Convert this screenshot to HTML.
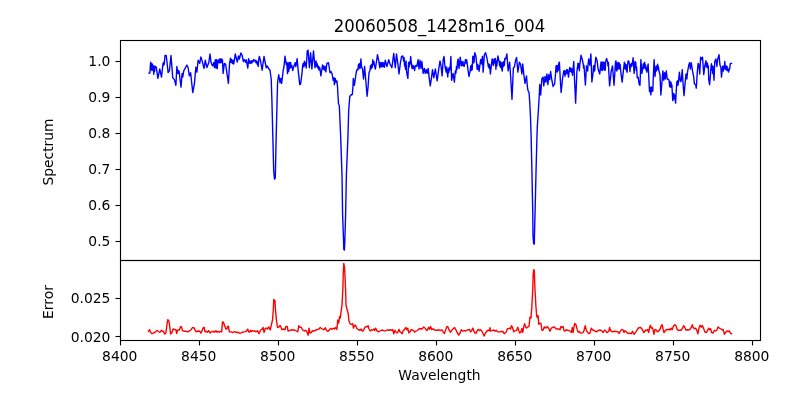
<!DOCTYPE html>
<html lang="en"><head><meta charset="utf-8"><title>20060508_1428m16_004</title>
<style>html,body{margin:0;padding:0;background:#fff}body{width:800px;height:400px;overflow:hidden}svg{display:block}text{font-family:'DejaVu Sans','Liberation Sans',sans-serif;fill:#000}</style></head><body>
<svg width="800" height="400" viewBox="0 0 800 400">
<rect width="800" height="400" fill="#fff"/>
<g fill="none" stroke-width="1.389" stroke-linejoin="round" stroke-linecap="square">
<polyline stroke="#0000ff" points="149,73.25 149.88,73 150.62,62.12 151,69 151.4,63.5 151.8,70.5 152.3,64 152.8,70 153.2,65.5 153.75,74.2 154.2,66.5 154.6,71.5 155,66 155.25,66.5 156.25,67.12 157.88,78.38 159.75,69 161.5,77.12 163,63.5 163.4,65.5 163.8,62.3 164.2,64.5 165,55.5 166.25,55.5 168.12,72.5 169.38,70.88 171,55.5 172.75,77.75 174.38,79.62 175.88,85.25 176.88,66.5 177.5,71 177.9,73.4 178.3,70.5 178.7,73.3 179.1,71.3 181,87.12 182.12,73.38 182.75,77.12 183.75,70.88 186.88,65 188.12,67.75 189.38,75.88 190.62,72.75 192.75,92.5 194.38,84 195.88,67.12 196.88,72.12 198.12,60.25 199.75,63.38 200.88,56.88 202.12,60.88 204,68.38 205.25,60.25 206.88,67.5 208.75,62.75 210,54 211,62.12 212.5,65.88 213.75,63.38 213.8,62.5 214.4,67.5 215.3,59.6 215.9,68 216.6,59.8 217.2,68.6 217.9,60.2 218.6,62.5 219.4,59 220,63 220.6,59 221.2,62.6 221.9,59 222.5,60.5 223.1,73.4 224.4,63.4 225.6,64 228.4,83.3 229.6,63 230.5,58.2 231.2,62.5 231.8,59.5 232.5,63.5 233.1,60.5 233.75,64 234.4,60 235.25,54 237.25,62.12 238.5,55.88 239.38,59 240.88,53 242.12,55.25 243.38,61.5 244.38,59.62 245.6,62.3 246.2,59.8 246.9,63.2 247.8,68 248.6,58.6 249.2,63 249.8,60.8 250.4,63.4 251,61 251.6,63 252.2,60.6 252.9,62 253.75,59.4 254.5,61 255.2,60.2 255.9,62.5 256.5,60.8 257.1,64 257.6,62 258.2,66.4 258.8,59 259.38,56.5 260.62,61.5 262.12,70.25 264,56.5 266.25,67.75 267.25,65.88 268.12,67.75 270,70.25 271.2,79 271.9,100 272.9,140 273.7,171 274.5,179.1 275.3,177.8 275.45,171 276.1,140 277.1,100 277.6,82 278.75,74.62 280,82.75 280.88,78.38 281.62,83.38 283.12,70.88 284,66.5 285,56.12 286.2,64.5 286.8,62.3 287.5,73.6 288.1,63 288.7,71.5 289.3,62.5 289.9,68.5 290.6,62.4 291.2,67 291.9,65.5 292.75,70.6 293.75,66.5 294.6,64.6 295.2,62.6 295.8,66.6 296.3,64 297.12,58.62 298.38,72.12 299.75,84.62 300.62,84 302.12,72.12 302.6,66 303.2,63.5 303.8,66.8 304.4,61.3 305,65.2 305.5,62.8 306.2,68 307.25,50.88 308.12,50.25 309.38,67.75 310.62,52.75 311.88,69 313.5,50.88 315,67.75 316,60.88 316.7,66.5 317.2,63.8 317.7,67.8 318.3,66 318.9,70 319.5,67.3 320.1,69.5 320.88,75.88 322.5,65 323.1,69 323.7,66 324.3,70 324.9,66.5 325.8,71.8 326.88,63.38 328.5,62.75 330,72.75 331,71.5 332.12,74 333.12,80.25 334,77.75 334.38,84.62 335.25,78.38 336,82.12 336.88,80.88 337.5,86.5 338,96 338.5,104 339.3,105.5 340.6,135 342,175 342.6,215 343.6,242 343.8,249.4 344.4,250 344.8,242 345.6,215 346.4,175 348,135 348.7,110 349.8,96.5 351,95 352.3,94.5 353,86 353.3,78.4 354.4,85.25 355.62,76.5 356.6,70.3 357.3,69.5 357.9,70 358.5,64.2 359.1,68.5 359.7,63.5 360.3,68 360.9,58.9 361.5,66.5 362.1,68 362.5,69 363.5,79 364.62,66.5 365.88,81.5 367.12,96.25 368,87.75 369,72.75 370,70.25 370.5,65.5 371.1,68.8 371.7,64.5 372.2,67.5 372.8,59.8 373.4,64.5 373.9,61.5 374.6,66 375.38,69 376.5,61.5 377.5,54.62 378.75,60.88 379.8,67.8 380.4,62.5 380.9,66.5 381.5,62.8 382.1,66.8 382.7,62.5 383.3,66.5 383.9,63 384.4,67.2 385.25,60.25 386.88,66.5 388.75,59.62 390,64 391.88,67.75 393.75,53.38 395.25,67.75 396.5,54 397.75,62.75 399,74 400.25,64 401.5,56.5 402.75,55.88 403.6,61 404.1,57.5 404.6,66 405.1,62.5 405.5,69.2 406,60.88 406.62,72.12 407.88,78.38 408.6,62.5 409.2,67 409.8,61.5 410.2,64 410.62,56.5 411.5,64 412,68.5 412.6,65.5 413.2,68.2 413.8,65.8 414.6,70.5 415.2,66.5 416,65.25 416.88,66.5 418.12,59.62 419,69 420,60.25 421,68.38 421.88,61.5 423.12,73.38 424.38,68.38 425.25,73.38 426.25,69.62 427.12,73.38 428.12,68.38 429.12,77.12 430.25,85.88 431.5,77.75 432.5,69.62 433.75,77.75 435.38,69 437.12,80.88 438.75,69 440,60.88 441,65.88 442.12,75.88 443.12,60.25 444,56.5 445,66.5 446.2,72 446.7,67 447.2,72.5 447.75,77 448.3,69 448.8,72.5 449.3,67.5 449.8,70 450.3,66.5 450.88,56.5 451.62,80.25 453.12,73.38 454.38,82.12 455.3,71 455.9,73.3 456.5,66.5 457,69.5 457.5,62 458.12,59 459,68.38 460.25,57.12 461.2,65.8 461.8,61.8 462.4,65.5 463,61.5 463.6,66 464.3,66.2 464.9,62.5 465.5,59.5 466.1,63 466.7,59.8 467.2,63.5 468.12,70.88 469,76.5 470.2,70.3 470.7,66 471.2,70.5 471.7,65 472.2,69.8 472.8,56.3 473.2,63 473.6,57 474,62.5 474.75,52.75 475.88,55.88 477.2,69.5 477.7,64.5 478.2,69 478.6,66 479.1,71.2 480.62,59.62 481,63.5 481.4,59.5 481.8,64 482.2,58 482.5,56.5 483.12,72.12 484.38,54.62 485.62,52.75 486.88,57.75 488.4,67 488.9,64 489.3,68.5 489.7,65 490.38,74 492.12,59 492.6,64 493,59.5 493.5,65.5 494,61 494.62,59 495,63 495.4,58.5 495.9,69.2 496.3,61 496.8,66 497.88,55.88 499.2,62 499.7,66 500.2,61.5 500.7,67.5 501.2,62.5 501.7,68.5 502.3,71 502.8,62.5 503.3,66.5 503.8,61.5 504.3,65.5 504.8,58.5 505.62,59 506.88,54 508.12,70.88 509.62,62.12 510.62,76.5 512,99.38 513.38,67.75 514.38,67.12 515.62,60.25 516.62,57.5 517.88,72.12 519.38,62.12 520.62,64.62 521.88,74 522.75,64 523.75,74 525,83.38 526.5,75.88 527.5,88 528.2,91 529,92.3 529.75,102.5 530.5,117.5 531.1,135 532,175 532.8,215 533,236 533.7,243.9 534.3,244.1 534.45,236 535,215 535.95,175 537,135 537.4,125 538.4,110 539.2,96.5 539.8,84.5 540.7,95 541.3,86 541.9,78.4 543.12,77.12 543.75,85.88 545,76.5 545.88,82.12 546.88,74 547.88,84.62 548.75,74.62 549.75,79.62 550.62,71.5 551.88,80.25 553.12,86.5 554.62,84 555.62,72.75 556,66 556.4,71.5 556.9,65.5 557.3,72 557.8,65.8 558.2,70.5 558.6,64 559.38,62.12 560.25,78.38 561.12,92.5 562.5,79 563.75,70.88 564.2,74 564.6,70.8 565,76.3 565.5,71.5 566,74 566.5,69.6 567,73 567.5,69.8 568,74 568.5,77.12 569.3,70 569.8,67.5 570.3,71.5 570.8,68.2 571.3,72 571.8,69 572.5,75.25 573.75,61.5 574.62,81.5 575.62,103.12 576.88,71.5 578,63.2 578.4,68 578.8,63.8 579.3,70.8 579.8,65 581,55.25 582.12,59 583.2,64 583.6,68 584,65.5 584.4,71 585.38,85 586.5,66 586.9,70.5 587.3,66.5 587.7,71 588.2,63 588.75,59 589.75,65.25 590.88,54 591.88,82 593.12,72.75 593.5,66 593.9,70.8 594.3,65.5 594.7,71 595.1,64 595.88,57.12 597.12,60.88 598.12,69 599.75,74 601,62 601.4,70 601.9,62.5 602.3,70.5 602.8,62.3 603.3,69 603.8,62 604.3,70 604.8,63 605.2,70.3 605.7,61.5 606.62,58.38 607.6,62 608,66 608.4,62.5 608.75,70.88 609.62,85.88 611.25,70.88 612.5,65.88 614,85.25 615,70.25 615.5,62 616,60.8 616.4,69.5 616.9,71 617.3,63 617.8,69 618.2,62.5 618.7,68.5 619.2,63 619.7,69 620.2,64.5 620.7,71 622.12,82.12 623.38,70.88 624.38,62.12 625,68.5 625.4,64 625.8,69.5 626.3,65 626.7,71 627.1,72.2 627.5,65 628.12,60.88 629,61.5 629.5,66 630,71.6 630.4,64.5 630.9,67 631.4,63.5 631.9,66 633.12,57.75 634.12,73.38 635,61.5 635.4,66 635.8,62.5 636.2,70.5 636.6,67 637.25,77.75 638.12,77.12 639.12,84 640,85.25 640.88,59.62 641.88,73.38 642.8,68 643.2,64 643.7,68.5 644.2,63 644.7,62.3 645.2,68 645.6,65 646,70 646.4,67.5 646.88,72.12 648.12,64 649.5,91.5 650,87.5 650.5,93 650.9,94.8 651.3,87 651.8,91.5 652.3,87.5 652.8,91 653.38,75.25 654.12,59.62 655,76.5 655.6,70 656,66.5 656.4,71 656.8,66 657.2,69.5 657.6,64.3 658,69 658.4,66.5 658.8,70.5 660,74.62 660.88,95 662.12,80.25 662.88,70.88 663.75,80.25 664.62,72.75 665.38,79 666.25,70.88 667.25,79 668.75,79.62 669.2,81.5 669.6,86.8 670.1,81.5 670.6,87 671.1,82.5 671.5,87.5 671.9,85 672.75,100.6 673.2,96 673.7,93.5 674.2,99 674.7,95 675.6,103.1 676.5,86.5 676.9,81.5 677.3,85.5 677.7,80.8 678.1,85 678.5,81.5 679.4,72.1 680.38,81.5 681.25,80.88 682.25,69.62 683.12,84.62 684,95.62 685.25,81.5 686,74 686.88,79 687.5,72.12 688.75,65.25 689.62,62.75 690.38,69 691.25,62.75 692.5,70.88 693.75,77.12 694.38,84 695.62,84.62 696.25,88.12 697.25,72.75 698.12,63.38 699,65.25 699.75,74 700.62,57.12 701.62,59.62 702.5,57.12 703.75,74.62 704.75,66.5 705.9,60.8 706.3,66.5 706.7,62.5 707.1,67.5 707.5,63.5 707.9,68 708.3,66 708.75,79.62 709.62,84.62 710.62,72.75 711.1,66 711.5,63.8 711.9,70 712.3,66 712.7,73.5 713.1,66.5 713.5,72 714,80.25 714.75,61.5 715.88,59 716.88,66.5 717.75,59 719,54.62 720,65.25 720.88,67.12 721.5,77.12 722.4,68.5 722.9,66 723.4,71 723.9,66.5 724.4,68.5 724.8,61.4 725.2,67 725.6,69.3 726,66 726.5,70 727,66.3 727.5,70.5 728,68.5 728.5,72.12 729.75,68.38 730.38,63.38 731.5,63.38"/>
<polyline stroke="#ff0000" points="148.5,331.25 149.62,329.62 150.62,332.5 152.12,333.75 153.75,332.75 155.62,331.88 156.5,330.62 157.5,330.62 158.75,331.88 160,332.25 161.25,330.25 162.5,331.5 163.38,331.25 164.62,334 165.88,333.12 166.62,326.88 167.75,319.75 168.75,320.25 169.75,326.88 170.62,334 171.88,332.75 173.12,329 175,329.62 176,330 176.62,333.5 177.5,330 179.38,330 180.62,326.5 181.5,326.88 182.5,330.62 184.38,331.25 186.25,331.25 187.5,331.88 189.38,331 191,330 192.25,327.75 194,327.75 195,330 196.25,331.88 198.12,331 199.75,331.25 200.88,333.12 202.12,330.62 203.12,327.75 204.12,327.25 205,331.88 206.25,331.25 207.5,332.25 208.75,330.62 210.25,333.12 211.25,331.88 213.12,331.25 214.38,332.25 215.88,330.62 216.88,332.25 218.12,331.25 219.38,332.25 220.62,331.25 221.62,331.88 222.5,321.88 223.5,322.25 224.38,325 225.88,329 226.88,329 227.75,326.25 228.38,326.5 229.38,331.88 231.25,331.88 232.5,332.5 234.38,331.88 235,331.5 236.25,332.5 238.12,332.25 240,333.5 241.88,332.5 243.75,331.88 245.62,331.62 246.88,330.62 247.75,329 248.75,331.88 249.62,332.25 250.62,330.25 251.5,331.5 252.5,330.62 253.75,331.25 255,331 256.25,331.88 257.5,330.62 259,333.75 260.62,330 261.88,329.38 263.12,327.5 264,332.5 265.25,328.5 266.5,328.12 267.5,329 268.75,326.88 270.25,330 271.5,324.38 272.5,320 273.38,308.75 273.75,299.38 275,300.62 275.38,308.75 276.5,320.62 277.5,327.5 279,326.88 280,325.38 280.88,326.88 281.88,329.75 283.12,329 285,329.75 285.88,326.5 287.25,326.5 288.12,331 289.75,330.62 291.25,329.75 293.12,330 295,330.25 296.88,331.25 297.75,331.88 298.75,325.62 299.62,327.25 301.25,327.25 302.5,329.75 304.38,331 305.62,330.25 306.88,331.88 308.12,335.25 309,328.12 310,333.12 311.25,332.5 312.5,330.62 313.75,331 315.62,330.25 317.5,329.38 319,329 320.25,327.5 321.88,328.75 323.75,329.75 325.38,327.75 326.5,330.62 328.12,331.25 329.38,329.75 330.62,328.5 331.88,329.38 333.12,328.12 334.38,329 335.62,327.5 336.88,329.38 337.75,320 338.75,323.12 339.62,316.5 340.25,318.12 341.25,310.62 342.1,303.75 342.9,288 343.2,275 343.75,263.4 344.55,267.6 345.2,280 345.7,292 346,305 346.9,308.75 348.1,313.1 349,321.25 350.25,324 351.88,324.38 352.75,323.75 353.38,328.12 354.38,325.62 355.62,325.25 356.88,328.75 358.75,329.75 360,330.25 361.25,329 362.12,331 363.38,330.62 364.75,327.5 366,326.5 367.12,326.88 368.12,325.62 369,329 370.25,331 371.5,329.75 372.5,330.25 373.75,329 374.75,330.62 375.62,328.12 376.88,330.62 378.5,331.88 380,331 381.88,330 383.75,330.62 385,331 386.88,330 388.75,330.25 390,329.75 391.5,330.25 392.75,329.75 393.75,333.75 395,330.25 396.25,332.5 397.5,332.75 399,329.38 400,331.88 401.25,332.5 402.12,333.75 403.12,330.62 404.38,329.75 405.88,327.5 406.88,329.75 407.75,328.12 408.75,332.75 410,331.88 411,329.75 412.5,330 413.75,330.62 414.62,332.25 416.25,331 417.75,330.25 419.38,328.5 421.25,329 422.5,328.5 423.75,326.88 425,328.12 426.88,330.62 428.75,327.25 429.62,329.38 430.62,326.5 431.88,329.75 433.12,328.75 435,330.25 436.88,330.25 438.75,329.75 440.38,330.62 441.88,329.75 443.12,331.88 444.38,333.5 445.62,330 446.62,326.88 447.75,326.5 449,329.75 450.62,332.25 452.12,329.75 453.38,328.5 454.62,327.5 455.88,329.75 457.12,332.5 458.75,335 460,333.12 461.25,329.75 462.5,331 464.38,330.62 465.62,331 467.5,330 469.38,329.38 470.62,331.88 471.62,330.62 472.75,328.12 473.75,330.62 475,333.12 476.25,333.12 477.5,330 478.5,329.38 479.38,330.62 480.62,329.75 481.88,331.25 483.12,333.75 484.12,336 485.38,333.12 486.88,331 488.5,330.25 489.38,330.62 490,327.75 490.62,331 492.12,330.62 493.75,330 495,331.25 496.25,330.25 497.5,331.88 499.38,331.88 501.25,331.5 502.75,331.5 504.38,333.75 506.25,331.88 507.25,329 508.75,328.5 510,328.12 510.62,329 511.5,325.62 512.5,327.5 513.75,331.88 515,330.62 516.5,330.62 517.75,327.25 518.75,330.62 519.62,333.12 521,331.88 521.88,328.5 522.75,332.25 523.75,326.88 524.62,323.75 525.62,326.88 526.5,328.12 527.75,326.88 529,326.5 530,316.9 531,318 531.9,306 532.7,290 533.2,274 533.75,269.7 534.3,270.6 534.6,280 535,290 535.9,306 536.6,315 537.25,317.5 538.1,315.6 538.75,324.4 539.75,323.12 541,323.5 541.88,330.25 543.12,330 544.38,326.88 545.88,328.12 547.5,326.5 548.75,328.75 550,331.25 551.25,328.12 552.5,327.5 554.38,326.88 555.88,328.75 557.5,329 559,329 560,329.75 560.88,326.5 561.88,327.5 563.12,326.5 564,330.62 565,331 566.25,329.75 567.5,330.25 569.38,330.62 570.62,331.88 571.5,332.25 572.25,327.5 573.12,332.5 574,326.88 574.75,323.5 576,324.75 577.12,329.38 578.12,332.25 579.38,331.5 580.62,333.12 581.88,333.12 583.12,332.5 584,330.62 585.25,325.62 586.25,330 587.5,332.25 588.75,333.5 590,333.12 591.25,328.12 592.5,329.75 594.38,330.62 596.25,331.88 598.12,330.62 600,330 601.5,330.62 603.12,332.5 604.38,330.25 605.62,330.62 606.88,332.75 608.75,331.25 609.62,327.5 610.62,330.62 612.5,331.88 614.38,331.25 616.25,331.5 618.12,331.88 619,333.5 620.62,330.62 621.88,329.38 623.12,330 624,332.5 625,330.62 626.25,331.88 628.12,333.5 630,333.12 631.25,333.75 632.5,331.25 634,334.38 635.62,332.25 637.12,329.75 638.75,327.75 640.62,327.5 641.88,328.75 643.12,331.25 644,332.5 645.62,330 646.88,330.62 647.75,329.38 648.75,332.5 649.62,327.5 650.38,325.25 651.25,328.12 652.12,327.5 653.12,330 654,334.38 655,329.38 656.25,330 657.5,331.88 658.75,331 660.25,328.75 661.25,325.62 662.12,324.75 663.12,329.38 664,332.5 665.25,330.62 666.88,329.38 668.12,329.75 669,329 670,330 671.25,328.12 672.12,329.75 673.38,326.25 674.75,324.75 676,325.62 677.12,329.38 678.75,330.62 680,330 681.25,330.25 682.5,328.12 683.75,325.62 684.75,327.5 685.88,330 687.5,329.75 688.75,330 690,329.38 691.25,327.5 692.25,324.75 693.12,327.25 694.38,328.75 695.62,328.12 696.88,330.62 697.88,333.75 699,328.12 700,325.25 701.25,327.25 702.25,325.25 703.5,328.12 704.75,331.88 706.25,332.5 707.5,330.62 708.75,328.12 709.75,329.75 710.62,328.75 711.62,332.5 713.12,333.12 714.38,330.25 715.62,331 716.88,330 718.12,326.88 719.38,328.12 720.62,328.75 721.88,329.75 723.12,329.38 724.38,334.38 725.62,332.5 726.88,331 728.12,331.5 729.38,331 730.38,333.12 731.5,333.75"/>
</g>
<g stroke="#000" stroke-width="1.111" fill="none">
<line x1="120.5" y1="340.5" x2="120.5" y2="345.5"/>
<line x1="199.5" y1="340.5" x2="199.5" y2="345.5"/>
<line x1="278.5" y1="340.5" x2="278.5" y2="345.5"/>
<line x1="357.5" y1="340.5" x2="357.5" y2="345.5"/>
<line x1="436.5" y1="340.5" x2="436.5" y2="345.5"/>
<line x1="515.5" y1="340.5" x2="515.5" y2="345.5"/>
<line x1="594.5" y1="340.5" x2="594.5" y2="345.5"/>
<line x1="673.5" y1="340.5" x2="673.5" y2="345.5"/>
<line x1="752.5" y1="340.5" x2="752.5" y2="345.5"/>
<line x1="115.5" y1="61.5" x2="120.5" y2="61.5"/>
<line x1="115.5" y1="97.5" x2="120.5" y2="97.5"/>
<line x1="115.5" y1="133.5" x2="120.5" y2="133.5"/>
<line x1="115.5" y1="169.5" x2="120.5" y2="169.5"/>
<line x1="115.5" y1="205.5" x2="120.5" y2="205.5"/>
<line x1="115.5" y1="241.5" x2="120.5" y2="241.5"/>
<line x1="115.5" y1="298.5" x2="120.5" y2="298.5"/>
<line x1="115.5" y1="336.5" x2="120.5" y2="336.5"/>
<rect x="120.5" y="40.5" width="640" height="220"/>
<rect x="120.5" y="260.5" width="640" height="80"/>
</g>
<g style="will-change:transform">
<text transform="translate(439.5,32.0) scale(0.992,1.07)" font-size="16.667" text-anchor="middle">20060508_1428m16_004</text>
<g font-size="13.889">
<text x="119.75" y="361.0" text-anchor="middle">8400</text>
<text x="198.75" y="361.0" text-anchor="middle">8450</text>
<text x="277.75" y="361.0" text-anchor="middle">8500</text>
<text x="356.75" y="361.0" text-anchor="middle">8550</text>
<text x="435.8" y="361.0" text-anchor="middle">8600</text>
<text x="514.8" y="361.0" text-anchor="middle">8650</text>
<text x="593.75" y="361.0" text-anchor="middle">8700</text>
<text x="672.75" y="361.0" text-anchor="middle">8750</text>
<text x="751.8" y="361.0" text-anchor="middle">8800</text>
<text x="110.45" y="66.4" text-anchor="end">1.0</text>
<text x="110.45" y="102.4" text-anchor="end">0.9</text>
<text x="110.45" y="138.4" text-anchor="end">0.8</text>
<text x="110.45" y="174.4" text-anchor="end">0.7</text>
<text x="110.45" y="210.4" text-anchor="end">0.6</text>
<text x="110.45" y="246.4" text-anchor="end">0.5</text>
<text x="110.45" y="303.4" text-anchor="end">0.025</text>
<text x="110.45" y="342.4" text-anchor="end">0.020</text>
<text x="439.5" y="379.7" text-anchor="middle">Wavelength</text>
<text transform="translate(52.8,152.0) rotate(-90)" text-anchor="middle">Spectrum</text>
<text transform="translate(52.5,302.0) rotate(-90)" text-anchor="middle">Error</text>
</g></g></svg></body></html>
